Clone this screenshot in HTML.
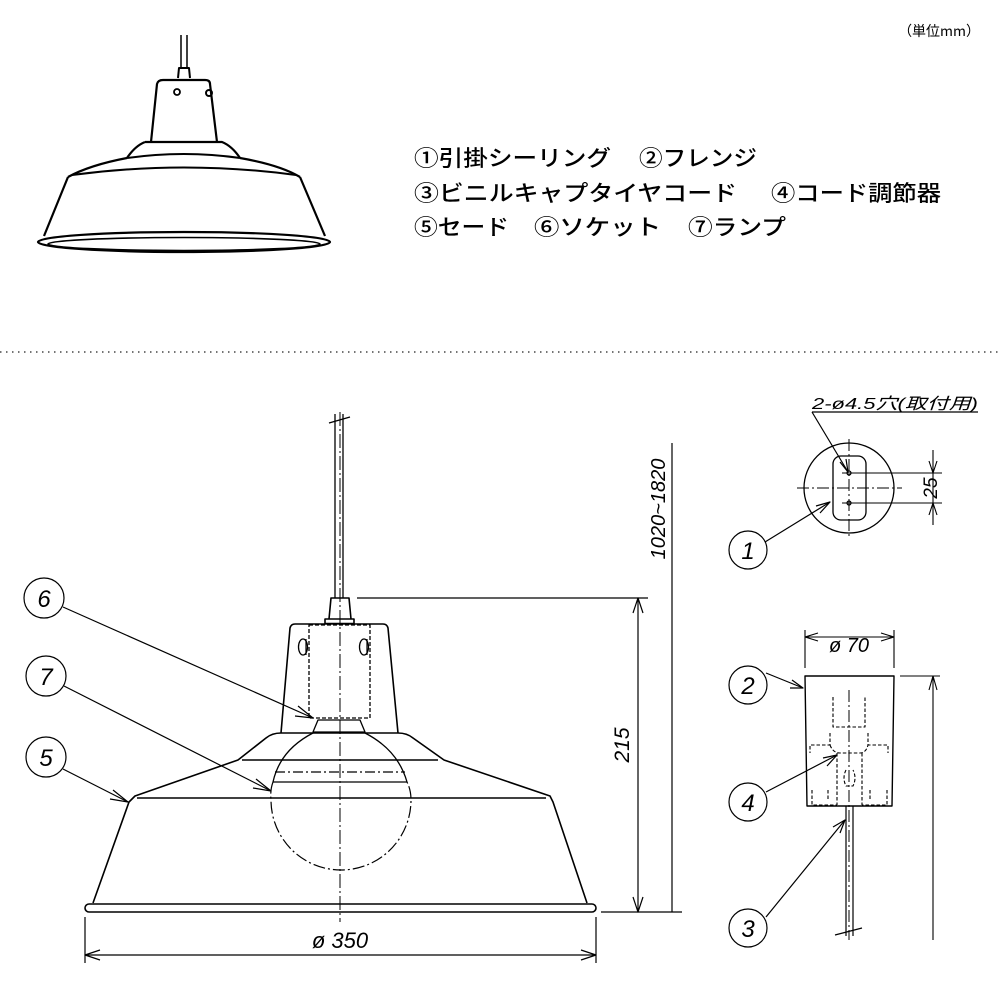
<!DOCTYPE html>
<html><head><meta charset="utf-8"><style>
html,body{margin:0;padding:0;background:#fff;}
svg{display:block;}
.t{font-family:"Liberation Sans","Noto Sans CJK JP",sans-serif;}
.j{font-family:"Noto Sans CJK JP","Liberation Sans",sans-serif;}
</style></head><body>
<svg width="1000" height="1000" viewBox="0 0 1000 1000" xmlns="http://www.w3.org/2000/svg">
<g fill="none" stroke="#000" stroke-width="1.6" stroke-linejoin="round">
<line x1="181" y1="35" x2="181" y2="68" stroke-width="1.5"/>
<line x1="187" y1="35" x2="187" y2="68" stroke-width="1.5"/>
<path d="M178,78 L179,68 L189,68 L190,78" stroke-width="2"/>
<path d="M151,142 L157,84 Q158,80 163,80 L205,80 Q210,80 210,84 L217,142" stroke-width="2.2"/>
<circle cx="177" cy="92" r="3" stroke-width="1.8"/>
<circle cx="209" cy="93" r="3" stroke-width="2"/>
<path d="M145,142 L222,142 Q232,146 240,158 M145,142 Q135,146 127,158" stroke-width="2.2"/>
<path d="M127,158 Q90,165 68,177 M240,158 Q280,165 300,177" stroke-width="2.2"/>
<path d="M127,158 Q184,150 240,158" stroke-width="2"/>
<path d="M72,175 Q184,160 296,175" stroke-width="2"/>
<path d="M68,177 L44,236 M300,177 L325,236" stroke-width="2.2"/>
<ellipse cx="184" cy="242" rx="146" ry="10" stroke-width="2.2"/>
<ellipse cx="184" cy="244" rx="136" ry="6.5" stroke-width="1.6"/>

<line x1="0" y1="352" x2="1000" y2="352" stroke-width="1.3" stroke-dasharray="1.5 4.5" stroke="#222"/>

<line x1="335" y1="414" x2="335" y2="598" stroke-width="1.3"/>
<line x1="343" y1="414" x2="343" y2="598" stroke-width="1.3"/>
<line x1="329" y1="423" x2="350" y2="417" stroke-width="1.3"/>
<line x1="340" y1="412" x2="340" y2="922" stroke-width="1" stroke-dasharray="14 3 2 3"/>
<path d="M329,619 L331,598 L349,598 L351,619"/>
<rect x="325" y="619" width="29" height="4.5"/>
<path d="M281,733 L290,628 Q291,624 295,624 L383,624 Q387,624 388,628 L398,733"/>
<rect x="309" y="625" width="61" height="93" stroke-dasharray="4 2" stroke-width="1.3"/>
<ellipse cx="303" cy="647" rx="4.5" ry="8" stroke-width="1.3"/>
<ellipse cx="364" cy="647" rx="4.5" ry="8" stroke-width="1.3"/>
<line x1="306" y1="639" x2="306" y2="655" stroke-width="1.2"/>
<line x1="367" y1="639" x2="367" y2="655" stroke-width="1.2"/>
<path d="M318,720 L360,720 L365,732 L313,732 Z" stroke-width="1.3"/>
<line x1="281" y1="733" x2="398" y2="733"/>
<path d="M281,733 Q272,733 266,738 L238,760 L135,796 L129,802 L93,903"/>
<path d="M398,733 Q407,733 413,738 L444,760 L550,796 L553,802 L587,903"/>
<line x1="242" y1="760" x2="438" y2="760"/>
<line x1="137" y1="798" x2="546" y2="798"/>
<rect x="85" y="904" width="511" height="8" rx="4"/>
<path d="M313,733 Q280,750 273,782 M365,733 Q398,750 407,782" stroke-width="1.3"/>
<line x1="275" y1="772" x2="405" y2="772" stroke-width="1.2" stroke-dasharray="10 3 2 3"/>
<line x1="273" y1="782" x2="407" y2="782" stroke-width="1.3"/>
<path d="M273,782 Q270,790 271,800 A70,70 0 0 0 411,800 Q411,790 407,782" stroke-width="1.2" stroke-dasharray="12 3 2 3"/>
<circle cx="44" cy="598" r="20" stroke-width="1.2"/>
<circle cx="46" cy="676" r="20" stroke-width="1.2"/>
<circle cx="46" cy="757" r="20" stroke-width="1.2"/>
<line x1="63" y1="607" x2="313" y2="718" stroke-width="1.2"/>
<path d="M298,706 L313,718 L295,716" stroke-width="1.2"/>
<line x1="64" y1="686" x2="271" y2="791" stroke-width="1.2"/>
<path d="M256,779 L271,791 L253,788" stroke-width="1.2"/>
<line x1="63" y1="769" x2="128" y2="802" stroke-width="1.2"/>
<path d="M113,790 L128,802 L110,799" stroke-width="1.2"/>
<line x1="85" y1="917" x2="85" y2="963" stroke-width="1.2"/>
<line x1="596" y1="917" x2="596" y2="963" stroke-width="1.2"/>
<line x1="85" y1="955" x2="596" y2="955" stroke-width="1.2"/>
<path d="M100,950 L85,955 L100,960 M581,950 L596,955 L581,960" stroke-width="1.2"/>
<line x1="357" y1="598" x2="648" y2="598" stroke-width="1.2"/>
<line x1="601" y1="912" x2="682" y2="912" stroke-width="1.2"/>
<line x1="638" y1="598" x2="638" y2="912" stroke-width="1.2"/>
<path d="M633,613 L638,598 L643,613 M633,897 L638,912 L643,897" stroke-width="1.2"/>
<line x1="672" y1="443" x2="672" y2="912" stroke-width="1.2"/>

<line x1="812" y1="412" x2="978" y2="412" stroke-width="1.2"/>
<line x1="812" y1="412" x2="848" y2="472" stroke-width="1.2"/>
<path d="M840,462 L848,472 L846,459" stroke-width="1.2"/>
<circle cx="849" cy="488" r="45" stroke-width="1.3"/>
<rect x="833" y="456" width="33" height="64" rx="8" stroke-width="1.3"/>
<circle cx="849" cy="473" r="2" stroke-width="1.2"/>
<circle cx="849" cy="503" r="2" stroke-width="1.2"/>
<line x1="797" y1="488" x2="902" y2="488" stroke-width="1" stroke-dasharray="12 3 2 3"/>
<line x1="849" y1="439" x2="849" y2="537" stroke-width="1" stroke-dasharray="12 3 2 3"/>
<line x1="842" y1="473" x2="942" y2="473" stroke-width="1.1"/>
<line x1="842" y1="503" x2="942" y2="503" stroke-width="1.1"/>
<line x1="933" y1="450" x2="933" y2="525" stroke-width="1.1"/>
<path d="M929,461 L933,473 L937,461 M929,515 L933,503 L937,515" stroke-width="1.1"/>
<circle cx="748" cy="550" r="19" stroke-width="1.2"/>
<line x1="765" y1="542" x2="830" y2="502" stroke-width="1.2"/>
<path d="M816,506 L830,502 L820,513" stroke-width="1.2"/>
<path d="M805,676 L894,676 L892,806 L807,806 Z" stroke-width="1.4"/>
<line x1="805" y1="630" x2="805" y2="668" stroke-width="1.1"/>
<line x1="894" y1="630" x2="894" y2="668" stroke-width="1.1"/>
<line x1="805" y1="637" x2="894" y2="637" stroke-width="1.1"/>
<path d="M818,633 L805,637 L818,641 M881,633 L894,637 L881,641" stroke-width="1.1"/>
<line x1="900" y1="676" x2="940" y2="676" stroke-width="1.1"/>
<line x1="933" y1="676" x2="933" y2="940" stroke-width="1.1"/>
<path d="M929,690 L933,676 L937,690" stroke-width="1.1"/>
<g stroke-width="1.1" stroke-dasharray="3.5 2">
<path d="M833,697 L833,727 L865,727 L865,697"/>
<path d="M830,733 L830,745 L810,745 L810,753 M868,733 L868,745 L888,745 L888,753"/>
<path d="M830,745 Q833,753 840,753 L860,753 Q866,753 868,745"/>
<path d="M837,753 L837,805 M862,753 L862,805"/>
<path d="M812,790 L812,805 L837,805 M887,790 L887,805 L862,805"/>
<path d="M828,790 L828,800 M870,790 L870,800"/>
<path d="M846,770 Q842,778 846,786 L853,786 Q857,778 853,770"/>
</g>
<line x1="849" y1="690" x2="849" y2="940" stroke-width="1" stroke-dasharray="12 3 2 3"/>
<line x1="846" y1="806" x2="846" y2="936" stroke-width="1.2"/>
<line x1="853" y1="806" x2="853" y2="936" stroke-width="1.2"/>
<line x1="835" y1="935" x2="862" y2="928" stroke-width="1.2"/>
<circle cx="748" cy="685" r="19" stroke-width="1.2"/>
<line x1="766" y1="673" x2="803" y2="688" stroke-width="1.2"/>
<path d="M790,688 L803,688 L792,680" stroke-width="1.2"/>
<circle cx="748" cy="802" r="19" stroke-width="1.2"/>
<line x1="766" y1="792" x2="837" y2="755" stroke-width="1.2"/>
<path d="M823,758 L837,755 L827,766" stroke-width="1.2"/>
<circle cx="748" cy="928" r="19" stroke-width="1.2"/>
<line x1="766" y1="917" x2="845" y2="820" stroke-width="1.2"/>
<path d="M833,827 L845,820 L840,833" stroke-width="1.2"/>
</g>

<g class="t" fill="#000">
<text x="980" y="36" font-size="14" text-anchor="end" class="j">（単位mm）</text>
<g font-size="22" font-weight="500" class="j">
<text x="414" y="166" textLength="197" lengthAdjust="spacingAndGlyphs">①引掛シーリング</text>
<text x="639" y="166" textLength="118" lengthAdjust="spacingAndGlyphs">②フレンジ</text>
<text x="414" y="201" textLength="323" lengthAdjust="spacingAndGlyphs">③ビニルキャプタイヤコード</text>
<text x="771" y="201" textLength="170" lengthAdjust="spacingAndGlyphs">④コード調節器</text>
<text x="414" y="235" textLength="95" lengthAdjust="spacingAndGlyphs">⑤セード</text>
<text x="534" y="235" textLength="127" lengthAdjust="spacingAndGlyphs">⑥ソケット</text>
<text x="688" y="235" textLength="98" lengthAdjust="spacingAndGlyphs">⑦ランプ</text>
</g>
<g font-style="italic" font-size="24" text-anchor="middle">
<text x="44" y="607">6</text>
<text x="46" y="685">7</text>
<text x="46" y="766">5</text>
<text x="748" y="559">1</text>
<text x="748" y="694">2</text>
<text x="748" y="811">4</text>
<text x="748" y="937">3</text>
<text x="340" y="948" font-size="22">ø 350</text>
<text x="849" y="652" font-size="20">ø 70</text>
<text transform="translate(629,745) rotate(-90)" font-size="21">215</text>
<text transform="translate(665,509) rotate(-90)" font-size="20">1020~1820</text>
<text transform="translate(937,488) rotate(-90)" font-size="19">25</text>
<text x="812" y="409" font-size="16" text-anchor="start" textLength="166" lengthAdjust="spacingAndGlyphs">2-ø4.5穴(取付用)</text>
</g>
</g>
</svg>
</body></html>
